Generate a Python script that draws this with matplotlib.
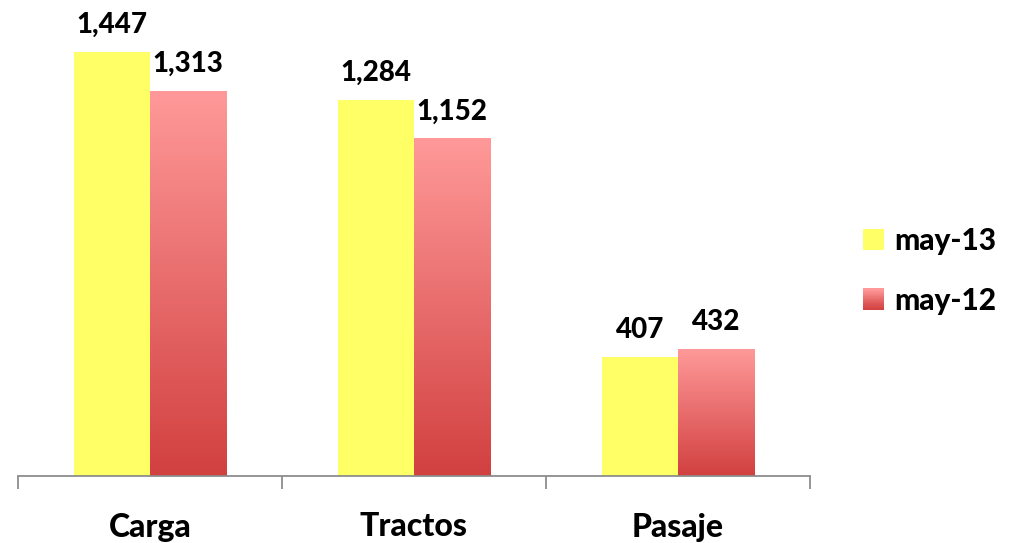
import numpy as np
import matplotlib
matplotlib.use("Agg")
import matplotlib.pyplot as plt
from matplotlib.patches import Rectangle
from matplotlib.legend_handler import HandlerBase
from matplotlib.colors import LinearSegmentedColormap

categories = ["Carga", "Tractos", "Pasaje"]
series_names = ["may-13", "may-12"]
may13 = [1447, 1284, 407]
may12 = [1313, 1152, 432]
labels13 = ["1,447", "1,284", "407"]
labels12 = ["1,313", "1,152", "432"]

plt.rcParams['font.family'] = ['Lato', 'DejaVu Sans']

YELLOW = "#FFFF66"
RED_TOP = "#FF9999"
RED_BOT = "#D24040"
cmap = LinearSegmentedColormap.from_list("rg", [RED_BOT, RED_TOP])

fig = plt.figure(figsize=(10.21, 5.43), dpi=100)
ax = fig.add_axes([18/1021, 1-476/543, 792/1021, 476/543])
ax.set_xlim(-0.5, 2.5)
ax.set_ylim(0, 1624)

x = np.arange(len(categories))
w = 0.288
grad = np.linspace(0, 1, 256).reshape(-1, 1)

b13 = ax.bar(x - w/2, may13, w, color=YELLOW, zorder=2)
b12 = ax.bar(x + w/2, may12, w, color="none", zorder=2)
for r in b12:
    x0 = r.get_x(); h = r.get_height()
    ax.imshow(grad, cmap=cmap, origin="lower", aspect="auto",
              extent=[x0, x0 + r.get_width(), 0, h], zorder=2,
              interpolation="bilinear")
ax.set_xlim(-0.5, 2.5)
ax.set_ylim(0, 1624)

WEIGHT = "black"
for bars, labs in ((b13, labels13), (b12, labels12)):
    for r, t in zip(bars, labs):
        ax.annotate(t, (r.get_x() + r.get_width()/2, r.get_height()),
                    xytext=(0, 10), textcoords="offset points",
                    ha="center", va="bottom", fontsize=20, fontweight=WEIGHT)

for s in ["top", "right", "left"]:
    ax.spines[s].set_visible(False)
ax.spines["bottom"].set_color("#8C8C8C")
ax.spines["bottom"].set_linewidth(1.3)
ax.set_yticks([])
ax.set_xticks([-0.5, 0.5, 1.5, 2.5])
ax.set_xticklabels([])
ax.tick_params(axis="x", length=9, width=1.3, color="#8C8C8C", direction="out")
for xi, c in zip(x, categories):
    ax.text(xi, -51/476, c, transform=ax.get_xaxis_transform(),
            ha="center", va="center", fontsize=23, fontweight=WEIGHT)


class GradHandler(HandlerBase):
    def create_artists(self, legend, orig_handle, xdescent, ydescent,
                       width, height, fontsize, trans):
        n = 20
        arts = []
        for i in range(n):
            c = cmap(i / (n - 1))
            arts.append(Rectangle((-xdescent, -ydescent + height * i / n),
                                  width, height / n + 0.3, facecolor=c,
                                  edgecolor="none", transform=trans))
        return arts


class SolidHandler(HandlerBase):
    def create_artists(self, legend, orig_handle, xdescent, ydescent,
                       width, height, fontsize, trans):
        return [Rectangle((-xdescent, -ydescent), width, height,
                          facecolor=YELLOW, edgecolor="none", transform=trans)]


h1 = Rectangle((0, 0), 1, 1)
h2 = Rectangle((0, 1), 1, 1)
leg = fig.legend([h1, h2], series_names,
                 handler_map={h1: SolidHandler(), h2: GradHandler()},
                 loc="center left", bbox_to_anchor=(836/1021, 1-271/543),
                 frameon=False, prop={"weight": WEIGHT, "size": 21.5},
                 handlelength=0.7, handleheight=0.7, handletextpad=0.35,
                 labelspacing=1.05)

fig.savefig("out.png", dpi=100)
